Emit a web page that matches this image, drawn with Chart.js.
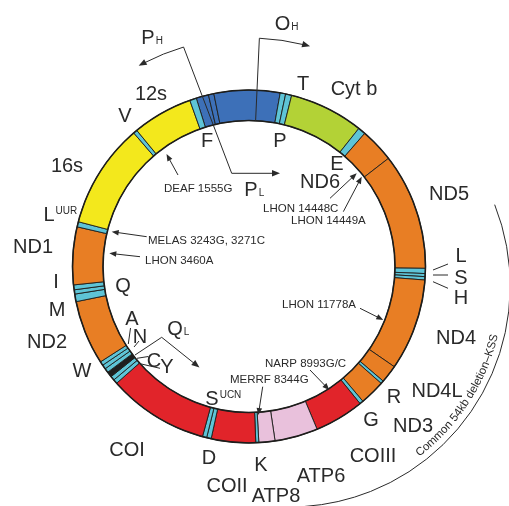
<!DOCTYPE html>
<html>
<head>
<meta charset="utf-8">
<script src="https://cdn.jsdelivr.net/npm/chart.js@4.4.1/dist/chart.umd.min.js"></script>
<style>
  html, body { margin: 0; padding: 0; background: #fff; }
</style>
</head>
<body>
<canvas id="map" width="509" height="506"></canvas>
<script>
// Ring segments, clockwise from where the control region starts
const ringStart = 342.6; // deg clockwise from 12 o'clock
const segNames = ['control region', 'control region', 'control region', 'P', 'T', 'Cyt b', 'E', 'ND6', 'ND5',
    'L', 'S', 'H', 'ND4', 'ND4L', 'R', 'ND3', 'G', 'COIII', 'ATP6', 'ATP8', 'K', 'COII', 'D', 'S', 'COI',
    'Y', 'C', 'OL', 'N', 'A', 'W', 'ND2', 'M', 'Q', 'I', 'ND1', 'L', '16s', 'V', '12s', 'F'];
// arc length of each segment in degrees (sums to 360)
const segDegrees = [4.1, 1.8, 21.7, 1.8, 2.0, 24.5, 2.5, 11.2, 38.4,
    1.7, 1.0, 1.1, 30.2, 5.9, 1.0, 8.3, 1.2, 16.3, 14.2, 5.3, 1.0, 14.6, 1.5, 1.4, 33.3,
    1.4, 1.4, 1.8, 1.4, 1.4, 1.3, 21.2, 2.5, 1.4, 1.6, 19.0, 1.7, 34.5, 1.3, 19.9, 2.2];
const segTypes = ['ctrl', 'ctrl', 'ctrl', 'tRNA', 'tRNA', 'III', 'tRNA', 'I', 'I',
    'tRNA', 'tRNA', 'tRNA', 'I', 'I', 'tRNA', 'I', 'tRNA', 'IV', 'V', 'V', 'tRNA', 'IV', 'tRNA', 'tRNA', 'IV',
    'tRNA', 'tRNA', 'ori', 'tRNA', 'tRNA', 'tRNA', 'I', 'tRNA', 'tRNA', 'tRNA', 'I', 'tRNA', 'rRNA', 'tRNA', 'rRNA', 'tRNA'];

// Gene labels
const geneLabels = ['T', 'Cyt b', '12s', 'V', 'F', 'P', 'E', 'ND6', '16s', 'ND1', 'I', 'M', 'Q', 'ND2', 'W',
    'A', 'N', 'C', 'Y', 'COI', 'D', 'COII', 'K', 'ATP8', 'ATP6', 'COIII', 'G', 'ND3', 'R', 'ND4L', 'ND4',
    'L', 'S', 'H', 'ND5'];
// labels with sub-/superscript: [main, script, kind]
const scriptLabels = [['L', 'UUR', 'sup'], ['S', 'UCN', 'sup'], ['O', 'H', 'sub'], ['P', 'H', 'sub'], ['P', 'L', 'sub'], ['Q', 'L', 'sub']];
// pathogenic mutations
const mutations = ['DEAF 1555G', 'MELAS 3243G, 3271C', 'LHON 3460A', 'LHON 14448C', 'LHON 14449A',
    'LHON 11778A', 'NARP 8993G/C', 'MERRF 8344G'];
const deletionText = 'Common 54kb deletion\u2013KSS';

const typeColors = {
    ctrl: '#3d70b8', tRNA: '#5ec4d6', rRNA: '#f3e81c', I: '#e87e24',
    III: '#b3d236', IV: '#e1242a', V: '#e9c1dc', ori: '#1e1e1e'
};

// Layout (figure pixel coords, ring centre is at 249/266.5 in the reference)
const refCx = 249, refCy = 266.5;
const geneLabelXY = [[303, 83], [354, 88], [151, 93], [125, 114.5], [207, 140], [280, 140], [337, 163], [320, 181],
    [67, 165], [33, 246], [56, 281], [57, 309], [123, 285], [47, 341], [82, 370],
    [132, 318], [140, 336], [154, 360], [167, 366], [127, 449], [209, 457], [227, 485], [261, 464], [276, 495],
    [321, 475], [373, 455], [371, 419], [413, 425], [394, 396], [437, 390], [456, 337],
    [461, 255], [461, 277], [461, 297], [449, 193]];
const scriptLabelXY = [[49, 214], [212, 398], [282.5, 22.5], [148, 36.5], [251, 188.5], [175, 328]];
const mutationTextXY = [[164, 187.5], [148, 239.5], [145, 259.5], [263, 207.5], [291, 220], [282, 304], [265, 362.5], [230, 379]];
const mutationArrows = [[[178, 175], [166.5, 154]], [[146.7, 236.7], [111.7, 231.7]], [[140, 256.7], [109.3, 253.3]],
    [[330, 198.3], [356.7, 173.3]], [[343.3, 211.7], [361.7, 176.7]], [[360, 308.3], [383.3, 320]],
    [[310, 370], [329.3, 390]], [[262.7, 386.7], [258.3, 415]]];
const tickLines = [[[433, 270], [448, 264]], [[433, 275], [448, 275]], [[433, 281.7], [448, 288.3]],
    [[128.3, 344], [130.5, 328]], [[134, 347], [139, 341]], [[137, 358.3], [148.3, 356.5]], [[138.3, 363.3], [160, 368.3]]];
// deletion bracket: centre (figure coords), radius, start/end angle; text baseline radius and mid angle
const delArc = { x: 289.2, y: 286, r: 221, from: 68.4, to: 176, textR: 214.5, textMid: 123 };

const FONT = '"Liberation Sans", Arial, sans-serif';
const INK = '#2a2a2a';
const OUTER_R = 176.5, INNER_R = 146;

function rad(d) { return d * Math.PI / 180; }

function arrowHead(ctx, x, y, ang, len = 7, half = 3) {
    ctx.beginPath();
    ctx.moveTo(x, y);
    ctx.lineTo(x - len * Math.cos(ang) + half * Math.sin(ang), y - len * Math.sin(ang) - half * Math.cos(ang));
    ctx.lineTo(x - len * Math.cos(ang) - half * Math.sin(ang), y - len * Math.sin(ang) + half * Math.cos(ang));
    ctx.closePath();
    ctx.fill();
}

const mapOverlay = {
    id: 'mapOverlay',
    afterDatasetsDraw(chart) {
        const ctx = chart.ctx;
        const arc = chart.getDatasetMeta(0).data[0];
        const cx = arc.x, cy = arc.y;
        const fx = x => cx + (x - refCx);
        const fy = y => cy + (y - refCy);
        const pol = (deg, r) => [cx + r * Math.sin(rad(deg)), cy - r * Math.cos(rad(deg))];

        ctx.save();
        // ring outline
        ctx.strokeStyle = '#1d1d1b';
        ctx.lineWidth = 1.6;
        for (const r of [arc.outerRadius, arc.innerRadius]) {
            ctx.beginPath();
            ctx.arc(cx, cy, r, 0, Math.PI * 2);
            ctx.stroke();
        }

        ctx.strokeStyle = INK;
        ctx.fillStyle = INK;
        ctx.lineWidth = 1;

        // O_H : radial line then arc clockwise
        let p0 = pol(2.6, arc.innerRadius), p1 = pol(2.6, 228.5);
        ctx.beginPath();
        ctx.moveTo(p0[0], p0[1]);
        ctx.lineTo(p1[0], p1[1]);
        ctx.arc(cx, cy, 228.5, rad(2.6 - 90), rad(14 - 90), false);
        ctx.stroke();
        let pe = pol(15.5, 228.5);
        arrowHead(ctx, pe[0], pe[1], rad(15.5), 8, 3.2);

        // P_H : arc counter-clockwise
        ctx.beginPath();
        ctx.arc(cx, cy, 229, rad(-16.6 - 90), rad(-27.3 - 90), true);
        ctx.stroke();
        pe = pol(-28.8, 229);
        arrowHead(ctx, pe[0], pe[1], rad(-28.8) + Math.PI, 8, 3.2);
        // connector through the ring to P_L
        p0 = pol(-16.6, 229);
        ctx.beginPath();
        ctx.moveTo(p0[0], p0[1]);
        ctx.lineTo(fx(231.7), fy(173.3));
        ctx.lineTo(fx(273), fy(173.3));
        ctx.stroke();
        arrowHead(ctx, fx(280), fy(173.3), 0, 8, 3.2);

        // Q_L bent arrow
        ctx.beginPath();
        ctx.moveTo(fx(135), fy(355));
        ctx.lineTo(fx(161.7), fy(337.3));
        ctx.lineTo(fx(195), fy(364));
        ctx.stroke();
        arrowHead(ctx, fx(199.5), fy(367.5), Math.atan2(367.5 - 337.3, 199.5 - 161.7), 8, 3.2);

        // tick lines
        for (const [a, b] of tickLines) {
            ctx.beginPath();
            ctx.moveTo(fx(a[0]), fy(a[1]));
            ctx.lineTo(fx(b[0]), fy(b[1]));
            ctx.stroke();
        }

        // mutation arrows + labels
        ctx.font = '11.5px ' + FONT;
        ctx.textAlign = 'left';
        ctx.textBaseline = 'alphabetic';
        mutations.forEach((txt, i) => {
            const [a, b] = mutationArrows[i];
            const ang = Math.atan2(b[1] - a[1], b[0] - a[0]);
            ctx.beginPath();
            ctx.moveTo(fx(a[0]), fy(a[1]));
            ctx.lineTo(fx(b[0]) - 5 * Math.cos(ang), fy(b[1]) - 5 * Math.sin(ang));
            ctx.stroke();
            arrowHead(ctx, fx(b[0]), fy(b[1]), ang, 7, 2.8);
            const [tx, ty] = mutationTextXY[i];
            ctx.fillText(txt, fx(tx), fy(ty) + 0.358 * 11.5);
        });

        // gene labels
        const big = 20;
        ctx.font = big + 'px ' + FONT;
        ctx.textAlign = 'center';
        geneLabels.forEach((txt, i) => {
            const [x, y] = geneLabelXY[i];
            ctx.fillText(txt, fx(x), fy(y) + 0.358 * big);
        });

        // labels with scripts
        scriptLabels.forEach(([main, scr, kind], i) => {
            const [x, y] = scriptLabelXY[i];
            ctx.font = big + 'px ' + FONT;
            ctx.textAlign = 'left';
            const w = ctx.measureText(main).width;
            const left = fx(x) - w / 2;
            const base = fy(y) + 0.358 * big;
            ctx.fillText(main, left, base);
            ctx.font = '10px ' + FONT;
            ctx.fillText(scr, left + w + 1, kind === 'sup' ? base - 0.716 * big + 0.716 * 10 : base);
        });

        // common deletion bracket + text following it (reads upward, tops towards the ring)
        const dcx = fx(delArc.x), dcy = fy(delArc.y);
        ctx.beginPath();
        ctx.arc(dcx, dcy, delArc.r, rad(delArc.from - 90), rad(delArc.to - 90), false);
        ctx.stroke();
        ctx.font = '11.5px ' + FONT;
        ctx.textAlign = 'center';
        ctx.textBaseline = 'alphabetic';
        const total = ctx.measureText(deletionText).width;
        let a = rad(delArc.textMid) + total / 2 / delArc.textR;
        for (const ch of deletionText) {
            const w = ctx.measureText(ch).width;
            a -= w / 2 / delArc.textR;
            ctx.save();
            ctx.translate(dcx + delArc.textR * Math.sin(a), dcy - delArc.textR * Math.cos(a));
            ctx.rotate(a - Math.PI);
            ctx.fillText(ch, 0, 0);
            ctx.restore();
            a -= w / 2 / delArc.textR;
        }

        ctx.restore();
    }
};

new Chart(document.getElementById('map'), {
    type: 'doughnut',
    data: {
        labels: segNames,
        datasets: [{
            data: segDegrees,
            backgroundColor: segTypes.map(t => typeColors[t]),
            borderColor: '#1d1d1b',
            borderWidth: 0.9,
            hoverOffset: 0
        }]
    },
    options: {
        responsive: false,
        animation: false,
        rotation: ringStart,
        circumference: 360,
        radius: OUTER_R,
        cutout: (INNER_R / OUTER_R * 100) + '%',
        layout: { padding: { left: 0, right: 11, top: 27, bottom: 0 } },
        plugins: {
            legend: { display: false },
            tooltip: { enabled: false }
        }
    },
    plugins: [mapOverlay]
});
</script>
</body>
</html>
